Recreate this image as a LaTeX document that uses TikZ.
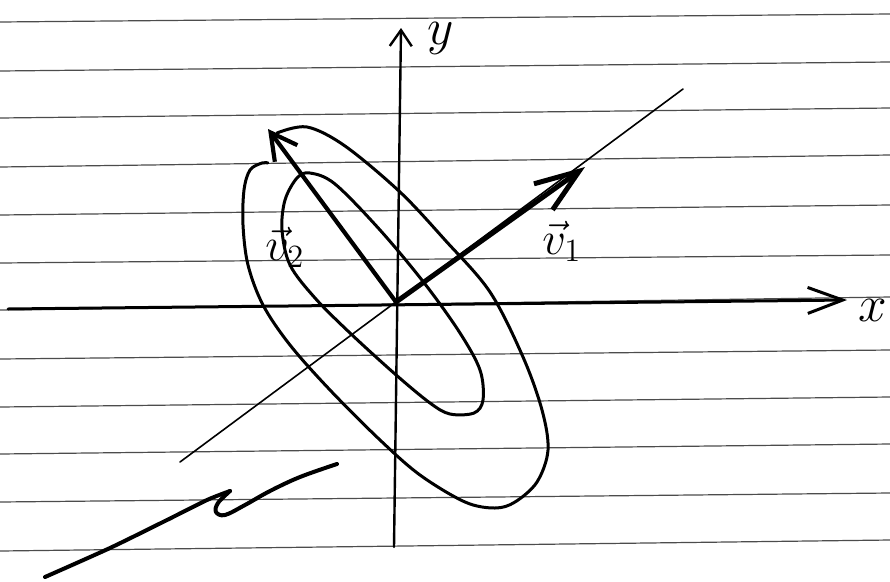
\documentclass[tikz,border=0pt]{standalone}
\usetikzlibrary{arrows.meta}
\begin{document}
\begin{tikzpicture}[x=1pt,y=-1pt, line cap=round, line join=round,
  rule/.style={black!70, line width=1.2pt},
  axisline/.style={black, line width=2.4pt},
  vecline/.style={black, line width=5pt},
  thinline/.style={black, line width=1.6pt},
  curve/.style={black, line width=3pt},
  lab/.style={inner sep=0pt, font=\LARGE, scale=2.7}]
\fill[white] (0,0) rectangle (890,581);
\path[use as bounding box] (0,0) rectangle (890,581);
% ruled paper lines
\foreach \a/\b in {22/14,71/62,118/108,167/155,215/205,263/255,310/297,359/350,407/397,454/444,502/493,551/540}
  \draw[rule] (0,\a) -- (890,\b);
% key points
\coordinate (O) at (396,302);
\coordinate (ybot) at (394,547);
\coordinate (ytop) at (401,28);
\coordinate (xl) at (8,309);
\coordinate (xtip) at (847,300);
\coordinate (la) at (180,462);
\coordinate (lb) at (683,89);
\coordinate (v1) at (585,167);
\coordinate (v2) at (268,129);
% outer curve
\draw[curve] plot[smooth, tension=0.55] coordinates {(277,133) (307,127) (345,146) (400,192) (445,240) (490,292) (523,357) (542,410) (548,450) (537,482) (515,502) (495,508) (465,502) (420,475) (380,440) (330,390) (290,345) (263,305) (248,265) (243,225) (244,190) (250,170) (262,163) (268,163)};
% inner curve
\draw[curve] plot[smooth cycle, tension=0.55] coordinates {(310,173) (335,184) (380,230) (425,284) (460,333) (480,370) (483,400) (474,413) (450,414) (430,403) (395,374) (350,333) (315,298) (290,265) (282,230) (285,200) (297,178)};
% thin line through v1
\draw[thinline] (la) -- (lb);
% axes
\draw[axisline, -{Straight Barb[length=16pt,width=22pt]}] (ybot) -- (ytop);
\draw[axisline, line width=3pt, -{Straight Barb[length=35pt,width=26pt]}] (xl) -- (xtip);
% vectors
\draw[vecline, -{Straight Barb[length=44pt,width=32pt]}] (O) -- (v1);
\draw[vecline, line width=4.2pt, -{Straight Barb[length=26pt,width=28pt]}] (O) -- (v2);
% squiggle
\draw[line width=4pt] plot[smooth, tension=0.4] coordinates {(45,577) (110,548) (167,520) (207,500) (230,491)};
\draw[line width=4pt] plot[smooth, tension=0.6] coordinates {(230,491) (218,503) (216,512) (225,515) (245,505) (270,491) (300,477) (337,464)};
% labels
\node[lab, scale=1.1, anchor=north] (ylab) at (441,22) {$y$};
\node[lab, scale=1.1] (xlab) at (873,310) {$x$};
\node[lab] (v1lab) at (562,241) {$\vec{v}_1$};
\node[lab] (v2lab) at (285,247) {$\vec{v}_2$};
\end{tikzpicture}
\end{document}
